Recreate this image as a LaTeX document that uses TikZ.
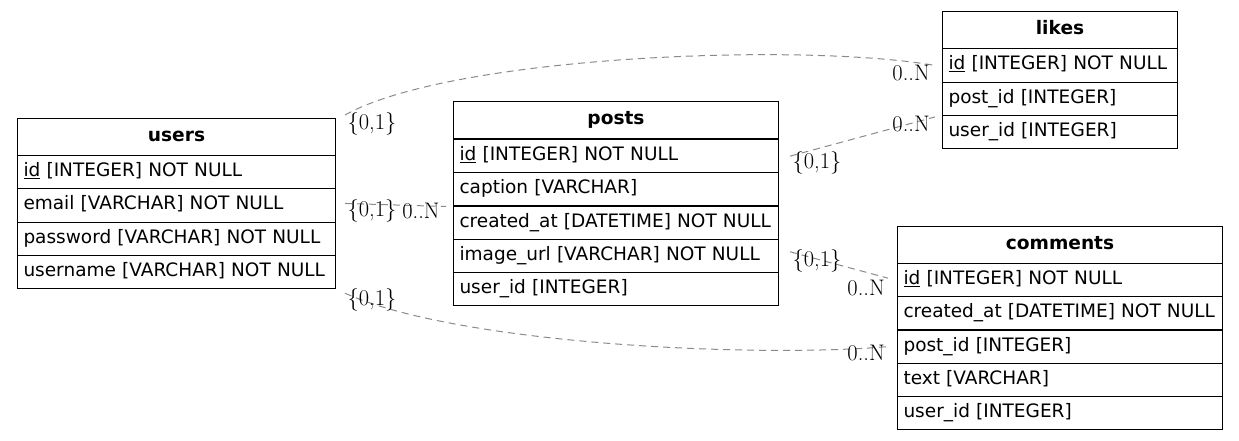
\documentclass[tikz,border=0pt]{standalone}
\usepackage{fontspec}
\newfontfamily\tabfont{DejaVu Sans}
\definecolor{edgegray}{HTML}{8A8A8A}
\begin{document}
\begin{tikzpicture}[x=1pt,y=-1pt,
  hdr/.style={draw, line width=1pt, anchor=north west, inner sep=0pt,
    font={\tabfont\bfseries\fontsize{18.6}{22}\selectfont},
    text height=14pt, text depth=5pt, minimum height=37pt, minimum width=#1},
  rowbox/.style={draw, line width=1pt, anchor=north west, inner xsep=6pt, inner ysep=0pt,
    font={\tabfont\fontsize{18.5}{22}\selectfont}, align=left,
    text height=14pt, text depth=5pt, minimum height=33.3pt, text width=#1},
  rel/.style={draw=edgegray, line width=1pt, dash pattern=on 7pt off 5pt},
  card/.style={inner sep=0pt, font={\fontsize{22.5}{26}\selectfont}}
]
\useasboundingbox (0,0) rectangle (1239,440);

% users
\node[hdr=318pt] (uh) at (17,118) {users};
\node[rowbox=306pt] (u1) at (17,155) {\mbox{\underline{id} [INTEGER] NOT NULL}};
\node[rowbox=306pt] (u2) at (17,188.3) {\mbox{email [VARCHAR] NOT NULL}};
\node[rowbox=306pt] (u3) at (17,221.6) {\mbox{password [VARCHAR] NOT NULL}};
\node[rowbox=306pt] (u4) at (17,254.9) {\mbox{username [VARCHAR] NOT NULL}};

% posts
\node[hdr=325pt] (ph) at (453,101) {posts};
\node[rowbox=313pt] (p1) at (453,139) {\mbox{\underline{id} [INTEGER] NOT NULL}};
\node[rowbox=313pt] (p2) at (453,172.2) {\mbox{caption [VARCHAR]}};
\node[rowbox=313pt] (p3) at (453,205.4) {\mbox{created\_at [DATETIME] NOT NULL}};
\node[rowbox=313pt] (p4) at (453,238.6) {\mbox{image\_url [VARCHAR] NOT NULL}};
\node[rowbox=313pt] (p5) at (453,271.8) {\mbox{user\_id [INTEGER]}};

% likes
\node[hdr=235pt] (lh) at (942,11) {likes};
\node[rowbox=223pt] (l1) at (942,48.3) {\mbox{\underline{id} [INTEGER] NOT NULL}};
\node[rowbox=223pt] (l2) at (942,81.6) {\mbox{post\_id [INTEGER]}};
\node[rowbox=223pt] (l3) at (942,114.9) {\mbox{user\_id [INTEGER]}};

% comments
\node[hdr=325pt] (ch) at (897,226) {comments};
\node[rowbox=313pt] (c1) at (897,263) {\mbox{\underline{id} [INTEGER] NOT NULL}};
\node[rowbox=313pt] (c2) at (897,296.2) {\mbox{created\_at [DATETIME] NOT NULL}};
\node[rowbox=313pt] (c3) at (897,329.4) {\mbox{post\_id [INTEGER]}};
\node[rowbox=313pt] (c4) at (897,362.6) {\mbox{text [VARCHAR]}};
\node[rowbox=313pt] (c5) at (897,395.8) {\mbox{user\_id [INTEGER]}};

% relations
\draw[rel] ([shift={(9,-3)}]uh.north east) .. controls (450,56) and (800,42) .. ([xshift=-7]l1.west);
\draw[rel] ([xshift=11]p1.east) -- ([shift={(-7,2)}]l3.north west);
\draw[rel] ([shift={(9,-2)}]u2.east) -- ([xshift=-7]p2.south west);
\draw[rel] ([shift={(11,-4)}]p4.east) -- ([shift={(-9,-2)}]c1.west);
\draw[rel] ([shift={(9,4)}]u4.south east) .. controls (460,345) and (760,358) .. ([xshift=-9]c3.west);

% cardinalities
\node[card] (k1a) at (372,124) {\{0,1\}};
\node[card] (k1b) at (911,73) {0..N};
\node[card] (k2a) at (817,163) {\{0,1\}};
\node[card] (k2b) at (911,124) {0..N};
\node[card] (k3a) at (372,211) {\{0,1\}};
\node[card] (k3b) at (421,211) {0..N};
\node[card] (k4a) at (817,261) {\{0,1\}};
\node[card] (k4b) at (866,288) {0..N};
\node[card] (k5a) at (372,300) {\{0,1\}};
\node[card] (k5b) at (866,353) {0..N};
\end{tikzpicture}
\end{document}
